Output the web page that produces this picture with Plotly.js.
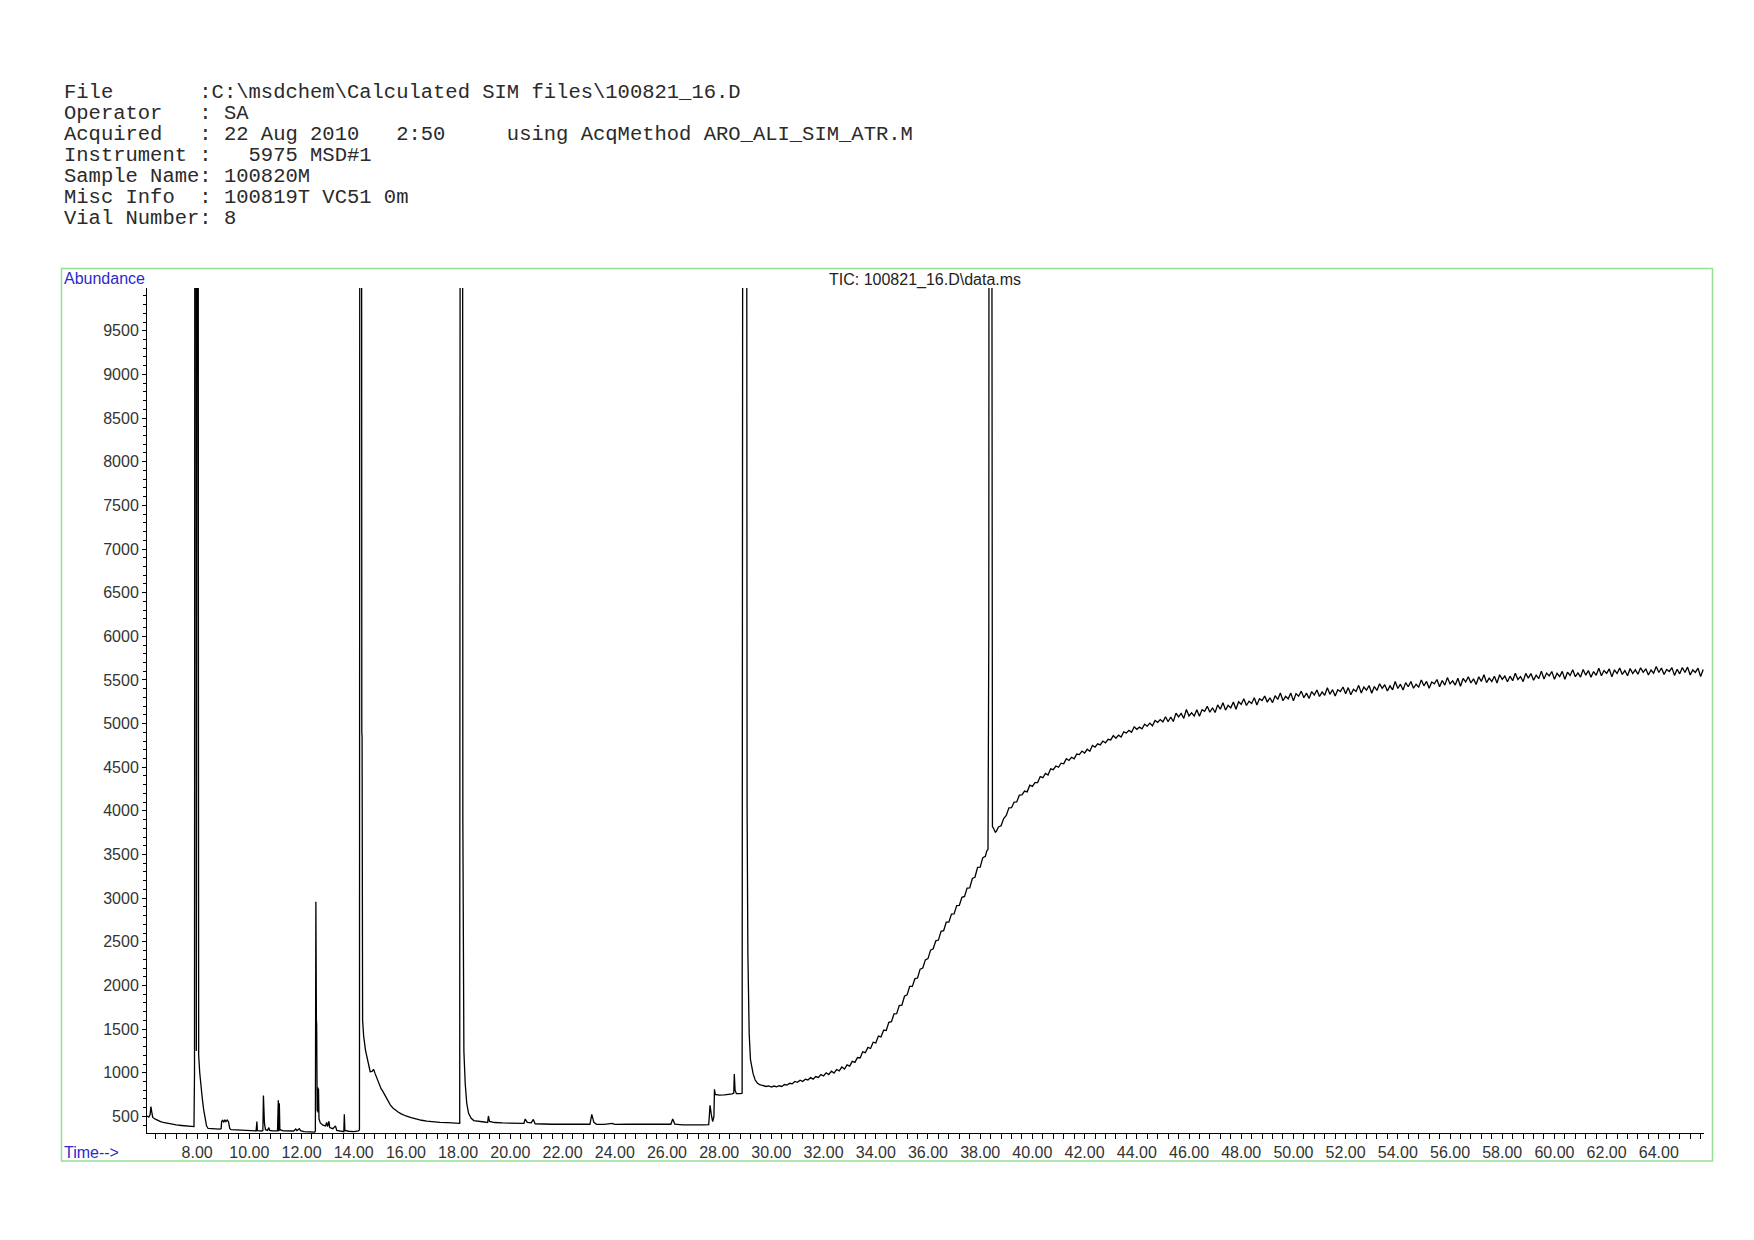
<!DOCTYPE html>
<html><head><meta charset="utf-8">
<script src="https://cdn.plot.ly/plotly-3.0.1.min.js"></script>
<style>html,body{margin:0;padding:0;background:#fff;} #chart{width:1754px;height:1240px;}</style>
</head><body><div id="chart"></div>
<script>
// ---------- text ----------
const headerLines = [
  "File       :C:\\msdchem\\Calculated SIM files\\100821_16.D",
  "Operator   : SA",
  "Acquired   : 22 Aug 2010   2:50     using AcqMethod ARO_ALI_SIM_ATR.M",
  "Instrument :   5975 MSD#1",
  "Sample Name: 100820M",
  "Misc Info  : 100819T VC51 0m",
  "Vial Number: 8"
];
const yAxisLabel = "Abundance";
const xAxisLabel = "Time-->";
const chartTitle = "TIC: 100821_16.D\\data.ms";

// ---------- data (time in min, abundance) ----------
const earlyTime = [6.08,6.15,6.20,6.23,6.26,6.30,6.40,6.50,6.60,6.70,6.80,6.90,7.00,7.20,7.40,7.60,7.80,7.88,7.90,7.92,7.95,7.97,7.99,8.03,8.05,8.06,8.10,8.15,8.20,8.25,8.30,8.36,8.42,8.60,8.85,8.92,8.94,8.98,9.02,9.06,9.10,9.15,9.20,9.25,9.30,9.50,9.80,10.00,10.26,10.29,10.31,10.48,10.52,10.54,10.56,10.58,10.62,10.70,10.75,10.78,10.90,11.08,11.11,11.13,11.15,11.17,11.30,11.50,11.70,11.78,11.82,11.92,11.96,12.10,12.30,12.50,12.53,12.55,12.57,12.58,12.60,12.62,12.63,12.65,12.67,12.72,12.82,12.92,12.96,13.00,13.05,13.08,13.20,13.30,13.35,13.50,13.62,13.64,13.66,13.80,14.00,14.18,14.22,14.24,14.29,14.31,14.32,14.34,14.38,14.45,14.55,14.63,14.70,14.76,14.82,14.90,15.00,15.05,15.10,15.20,15.30,15.40,15.50,15.60,15.70,15.80,15.90,16.00,16.20,16.40,16.60,16.80,17.00,17.30,17.60,17.90,18.06,18.09,18.16,18.18,18.19,18.22,18.27,18.33,18.40,18.50,18.60,18.80,19.00,19.13,19.16,19.20,19.40,19.70,20.00,20.30,20.52,20.57,20.65,20.80,20.88,20.95,21.20,21.60,22.00,22.40,22.80,23.05,23.12,23.20,23.30,23.60,23.90,24.00,24.50,25.00,25.50,26.00,26.15,26.22,26.30,26.60,27.00,27.40,27.60,27.65,27.70,27.75,27.80,27.82,27.85,28.00,28.20,28.40,28.50,28.56,28.58,28.61,28.66,28.80,28.88,28.92,29.04,29.07,29.10,29.15,29.20,29.25,29.30,29.38,29.47,29.55];
const earlyAbund = [505,492,520,612,555,488,468,452,440,432,425,418,412,402,396,390,385,384,1000,20000,20000,1250,20000,20000,5950,1200,1000,820,700,580,470,392,362,358,355,360,445,455,432,462,440,458,440,362,348,345,340,338,335,440,336,333,340,740,560,420,348,340,372,340,335,334,685,330,650,348,335,330,333,355,338,360,336,325,320,320,330,2960,1600,1560,560,835,545,820,470,425,400,392,432,382,445,372,360,392,340,330,325,525,340,330,326,335,345,20000,20000,4900,4850,1600,1420,1260,1120,1012,1015,1040,990,925,860,815,795,735,680,632,596,570,550,532,517,505,486,469,456,446,438,432,428,425,421,20000,20000,3900,3450,1250,880,650,535,478,452,440,436,430,505,442,430,425,422,420,420,470,432,426,466,416,412,410,410,408,409,410,524,432,410,408,420,408,410,412,408,410,410,470,412,403,400,402,405,627,520,440,500,810,752,745,746,750,758,768,986,800,760,760,765,20000,20000,4050,2370,1450,1150,1070,990,917,880,865];

const rampTime = [29.6,29.7,29.8,29.9,30.0,30.1,30.2,30.3,30.4,30.5,30.6,30.7,30.8,30.9,31.0,31.1,31.2,31.3,31.4,31.5,31.6,31.7,31.8,31.9,32.0,32.1,32.2,32.3,32.4,32.5,32.6,32.7,32.8,32.9,33.0,33.1,33.2,33.3,33.4,33.5,33.6,33.7,33.8,33.9,34.0,34.1,34.2,34.3,34.4,34.5,34.6,34.7,34.8,34.9,35.0,35.1,35.2,35.3,35.4,35.5,35.6,35.7,35.8,35.9,36.0,36.1,36.2,36.3,36.4,36.5,36.6,36.7,36.8,36.9,37.0,37.1,37.2,37.3,37.4,37.5,37.6,37.7,37.8,37.9,38.0,38.1,38.2,38.25];
const rampAbund = [860,858,843,849,836,848,838,851,843,865,859,880,874,900,891,914,901,927,918,944,927,957,947,979,963,1000,980,1018,996,1037,1022,1066,1043,1090,1076,1130,1119,1175,1170,1240,1230,1290,1278,1350,1342,1420,1410,1488,1485,1577,1585,1675,1678,1770,1775,1877,1892,1990,1990,2078,2085,2187,2200,2293,2308,2405,2420,2512,2520,2620,2628,2725,2725,2817,2820,2915,2918,3010,3020,3115,3118,3225,3240,3352,3355,3465,3480,3540];

const peakTime = [38.30,38.33,38.35,38.42,38.44,38.47,38.53,38.58,38.62];
const peakAbund = [3560,6050,20000,20000,5150,3820,3790,3755,3765];

const lateTime = [38.7,38.8,38.9,39.0,39.1,39.2,39.3,39.4,39.5,39.6,39.7,39.8,39.9,40.0,40.1,40.2,40.3,40.4,40.5,40.6,40.7,40.8,40.9,41.0,41.1,41.2,41.3,41.4,41.5,41.6,41.7,41.8,41.9,42.0,42.1,42.2,42.3,42.4,42.5,42.6,42.7,42.8,42.9,43.0,43.1,43.2,43.3,43.4,43.5,43.6,43.7,43.8,43.9,44.0,44.1,44.2,44.3,44.4,44.5,44.6,44.7,44.8,44.9,45.0,45.1,45.2,45.3,45.4,45.5,45.6,45.7,45.8,45.9,46.0,46.1,46.2,46.3,46.4,46.5,46.6,46.7,46.8,46.9,47.0,47.1,47.2,47.3,47.4,47.5,47.6,47.7,47.8,47.9,48.0,48.1,48.2,48.3,48.4,48.5,48.6,48.7,48.8,48.9,49.0,49.1,49.2,49.3,49.4,49.5,49.6,49.7,49.8,49.9,50.0,50.1,50.2,50.3,50.4,50.5,50.6,50.7,50.8,50.9,51.0,51.1,51.2,51.3,51.4,51.5,51.6,51.7,51.8,51.9,52.0,52.1,52.2,52.3,52.4,52.5,52.6,52.7,52.8,52.9,53.0,53.1,53.2,53.3,53.4,53.5,53.6,53.7,53.8,53.9,54.0,54.1,54.2,54.3,54.4,54.5,54.6,54.7,54.8,54.9,55.0,55.1,55.2,55.3,55.4,55.5,55.6,55.7,55.8,55.9,56.0,56.1,56.2,56.3,56.4,56.5,56.6,56.7,56.8,56.9,57.0,57.1,57.2,57.3,57.4,57.5,57.6,57.7,57.8,57.9,58.0,58.1,58.2,58.3,58.4,58.5,58.6,58.7,58.8,58.9,59.0,59.1,59.2,59.3,59.4,59.5,59.6,59.7,59.8,59.9,60.0,60.1,60.2,60.3,60.4,60.5,60.6,60.7,60.8,60.9,61.0,61.1,61.2,61.3,61.4,61.5,61.6,61.7,61.8,61.9,62.0,62.1,62.2,62.3,62.4,62.5,62.6,62.7,62.8,62.9,63.0,63.1,63.2,63.3,63.4,63.5,63.6,63.7,63.8,63.9,64.0,64.1,64.2,64.3,64.4,64.5,64.6,64.7,64.8,64.9,65.0,65.1,65.2,65.3,65.4,65.5,65.6,65.7];
const lateAbund = [3815,3830,3913,3948,4035,4037,4100,4102,4180,4184,4227,4218,4295,4280,4324,4325,4393,4380,4430,4410,4482,4472,4514,4500,4546,4539,4598,4578,4614,4596,4651,4645,4685,4662,4706,4684,4749,4731,4768,4756,4800,4780,4820,4813,4863,4832,4867,4846,4906,4892,4922,4900,4964,4935,4959,4940,4993,4970,5005,4975,5036,5015,5046,5020,
5078,5021,5076,5024,5120,5077,5116,5060,5161,5087,5123,5086,5158,5084,5160,5140,5198,5130,5181,5127,
5214,5164,5240,5154,5210,5180,5247,5165,5251,5220,5284,5207,5257,5230,5295,5212,5286,5265,5316,5246,
5296,5240,5320,5276,5350,5262,5312,5284,5349,5260,5343,5314,5372,5296,5349,5288,5367,5327,5385,5310,
5362,5324,5411,5336,5389,5316,5387,5366,5419,5342,5412,5331,5393,5368,5438,5351,5419,5384,5436,5347,
5425,5380,5456,5403,5445,5374,5432,5387,5483,5402,5452,5385,5469,5422,5482,5405,5451,5418,5500,5433,
5483,5404,5476,5455,5505,5422,5494,5441,5527,5455,5489,5441,5519,5427,5517,5477,5537,5465,5513,5447,
5537,5483,5559,5469,5521,5483,5543,5465,5559,5507,5545,5479,5543,5491,5577,5505,5539,5481,5575,5521,
5573,5497,5555,5515,5601,5511,5579,5547,5597,5507,5577,5538,5598,5507,5589,5552,5616,5537,5581,5532,
5620,5555,5607,5530,5596,5553,5635,5548,5608,5575,5626,5535,5616,5573,5636,5563,5608,5549,5630,5573,
5616,5565,5640,5587,5628,5557,5614,5577,5653,5585,5637,5562,5620,5597,5641,5552,5623,5570,5643,5586,
5647,5556,5615,5586,5635,5540,5619];

// ---------- axis ticks ----------
const xRange = [6.08, 65.73];
const yRange = [310, 9990];
const xMajorStep = 2, xMinorStep = 0.4;
const yMajorStep = 500, yMinorStep = 100;

// ---------- layout geometry ----------
const W = 1754, H = 1240;
const M = {l: 147, r: 50, t: 288, b: 107};
const pw = W - M.l - M.r, ph = H - M.t - M.b;
const px = x => (x - M.l) / pw;
const py = y => (H - M.b - y) / ph;

const time = earlyTime.concat(rampTime, peakTime, lateTime);
const abund = earlyAbund.concat(rampAbund, peakAbund, lateAbund);

const trace = {
  type: 'scatter', mode: 'lines', x: time, y: abund,
  line: {color: '#000', width: 1.3}, hoverinfo: 'skip', showlegend: false
};

const nb = s => s.replace(/ /g, '\u00A0');
const headerY = [92.8, 113.8, 134.6, 155.5, 176.4, 197.2, 218.1];
const annotations = headerLines.map((s, i) => ({
  xref: 'paper', yref: 'paper', x: px(62), y: py(headerY[i]),
  xanchor: 'left', yanchor: 'middle', showarrow: false, text: nb(s),
  font: {family: 'Liberation Mono, DejaVu Sans Mono, monospace', size: 20.5, color: '#2a2a2a'}
}));
annotations.push({xref:'paper', yref:'paper', x: px(62), y: py(278.5), xanchor:'left', yanchor:'middle',
  showarrow:false, text: yAxisLabel, font:{family:'Liberation Sans, Arial', size:16, color:'#2a2ad0'}});
annotations.push({xref:'paper', yref:'paper', x: px(62), y: py(1152), xanchor:'left', yanchor:'middle',
  showarrow:false, text: xAxisLabel, font:{family:'Liberation Sans, Arial', size:16, color:'#2a2ad0'}});
annotations.push({xref:'paper', yref:'paper', x: px(924.5), y: py(279.6), xanchor:'center', yanchor:'middle',
  showarrow:false, text: chartTitle, font:{family:'Liberation Sans, Arial', size:16, color:'#222'}});

const layout = {
  width: W, height: H, margin: M,
  paper_bgcolor: '#fff', plot_bgcolor: '#fff',
  font: {family: 'Liberation Sans, Arial, sans-serif', size: 16, color: '#333'},
  showlegend: false,
  xaxis: {
    range: xRange, tickmode: 'linear', tick0: 0, dtick: xMajorStep, tickformat: '.2f',
    ticks: 'outside', ticklen: 5, tickwidth: 1, tickcolor: '#000',
    showline: true, linecolor: '#000', linewidth: 1, showgrid: false, zeroline: false,
    tickfont: {family: 'Liberation Sans, Arial', size: 16, color: '#333'},
    minor: {tickmode: 'linear', tick0: 0, dtick: xMinorStep, ticks: 'outside', ticklen: 5, tickwidth: 1, tickcolor: '#000', showgrid: false},
    fixedrange: true
  },
  yaxis: {
    range: yRange, tickmode: 'linear', tick0: 0, dtick: yMajorStep, tickformat: 'd',
    ticks: 'outside', ticklen: 4, tickwidth: 1, tickcolor: '#000',
    showline: true, linecolor: '#000', linewidth: 1, showgrid: false, zeroline: false,
    tickfont: {family: 'Liberation Sans, Arial', size: 16, color: '#333'},
    minor: {tickmode: 'linear', tick0: 0, dtick: yMinorStep, ticks: 'outside', ticklen: 3, tickwidth: 1, tickcolor: '#000', showgrid: false},
    fixedrange: true
  },
  shapes: [{
    type: 'rect', xref: 'paper', yref: 'paper',
    x0: px(61.5), x1: px(1712.5), y0: py(1161), y1: py(268.5),
    line: {color: '#95e095', width: 1.5}, fillcolor: 'rgba(0,0,0,0)', layer: 'below'
  }],
  annotations: annotations
};

Plotly.newPlot('chart', [trace], layout, {displayModeBar: false, staticPlot: true});
</script>
</body></html>
